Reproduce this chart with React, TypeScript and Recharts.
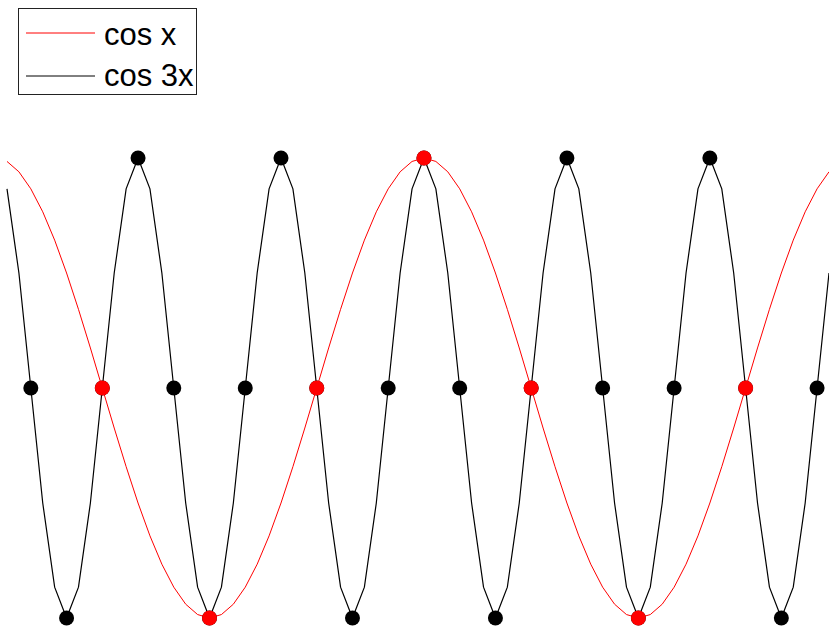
import React from "react";
import { LineChart, Line, XAxis, YAxis, Legend } from "recharts";

// Sample angles in degrees, 10° apart
const angleDeg = [
  -350, -340, -330, -320, -310, -300, -290, -280, -270, -260,
  -250, -240, -230, -220, -210, -200, -190, -180, -170, -160,
  -150, -140, -130, -120, -110, -100, -90, -80, -70, -60,
  -50, -40, -30, -20, -10, 0, 10, 20, 30, 40,
  50, 60, 70, 80, 90, 100, 110, 120, 130, 140,
  150, 160, 170, 180, 190, 200, 210, 220, 230, 240,
  250, 260, 270, 280, 290, 300, 310, 320, 330, 340,
];

// cos x at each sample
const cosX = [
  0.985, 0.94, 0.866, 0.766, 0.643, 0.5, 0.342, 0.174, 0, -0.174,
  -0.342, -0.5, -0.643, -0.766, -0.866, -0.94, -0.985, -1, -0.985, -0.94,
  -0.866, -0.766, -0.643, -0.5, -0.342, -0.174, 0, 0.174, 0.342, 0.5,
  0.643, 0.766, 0.866, 0.94, 0.985, 1, 0.985, 0.94, 0.866, 0.766,
  0.643, 0.5, 0.342, 0.174, 0, -0.174, -0.342, -0.5, -0.643, -0.766,
  -0.866, -0.94, -0.985, -1, -0.985, -0.94, -0.866, -0.766, -0.643, -0.5,
  -0.342, -0.174, 0, 0.174, 0.342, 0.5, 0.643, 0.766, 0.866, 0.94,
];

// cos 3x at each sample
const cos3X = [
  0.866, 0.5, 0, -0.5, -0.866, -1, -0.866, -0.5, 0, 0.5,
  0.866, 1, 0.866, 0.5, 0, -0.5, -0.866, -1, -0.866, -0.5,
  0, 0.5, 0.866, 1, 0.866, 0.5, 0, -0.5, -0.866, -1,
  -0.866, -0.5, 0, 0.5, 0.866, 1, 0.866, 0.5, 0, -0.5,
  -0.866, -1, -0.866, -0.5, 0, 0.5, 0.866, 1, 0.866, 0.5,
  0, -0.5, -0.866, -1, -0.866, -0.5, 0, 0.5, 0.866, 1,
  0.866, 0.5, 0, -0.5, -0.866, -1, -0.866, -0.5, 0, 0.5,
];

// Angles that get a marker (zeros and extremes)
const cosXMarks = [-270, -180, -90, 0, 90, 180, 270];
const cos3XMarks = [
  -330, -300, -270, -240, -210, -180, -150, -120, -90, -60, -30, 0,
  30, 60, 90, 120, 150, 180, 210, 240, 270, 300, 330,
];

const seriesNames = ["cos x", "cos 3x"];
const seriesColors = ["#ff0000", "#000000"];

const rows = angleDeg.map((x, i) => ({ x, c1: cosX[i], c3: cos3X[i] }));

const makeDot = (marks: number[], color: string) => (props: any) => {
  const { cx, cy, payload, index } = props;
  if (!marks.includes(payload.x)) return <g key={`e-${index}`} />;
  return <circle key={`d-${index}`} cx={cx} cy={cy} r={7.5} fill={color} stroke="none" />;
};

const BoxLegend = () => (
  <svg width={180} height={88} style={{ display: "block" }}>
    <rect x={0.5} y={0.5} width={178} height={86} fill="#fff" stroke="#222" strokeWidth={1} />
    {seriesNames.map((name, i) => {
      const ly = 25 + i * 43;
      return (
        <g key={name}>
          <line x1={8} x2={77} y1={ly} y2={ly} stroke={seriesColors[i]} strokeWidth={1} />
          <text
            x={86}
            y={36.5 + i * 41.5}
            fontFamily="'Liberation Sans', Arial, sans-serif"
            fontSize={31}
            fill="#000"
          >
            {name}
          </text>
        </g>
      );
    })}
  </svg>
);

export default function App() {
  return (
    <div
      style={{
        position: "absolute",
        left: 0,
        top: 0,
        width: 829,
        height: 627,
        background: "#fff",
        overflow: "hidden",
      }}
    >
      <LineChart width={829} height={627} data={rows} margin={{ top: 158, right: 0, bottom: 9, left: 7 }}>
        <XAxis dataKey="x" type="number" domain={[-350, 340]} hide />
        <YAxis type="number" domain={[-1, 1]} hide />
        <Legend
          layout="horizontal"
          verticalAlign="middle"
          align="center"
          content={() => <BoxLegend />}
          wrapperStyle={{ top: 8, left: 18, width: 180, height: 88 }}
        />
        <Line
          dataKey="c3"
          type="linear"
          stroke={seriesColors[1]}
          strokeWidth={1.2}
          dot={makeDot(cos3XMarks, seriesColors[1])}
          activeDot={false}
          isAnimationActive={false}
        />
        <Line
          dataKey="c1"
          type="linear"
          stroke={seriesColors[0]}
          strokeWidth={1}
          dot={makeDot(cosXMarks, seriesColors[0])}
          activeDot={false}
          isAnimationActive={false}
        />
      </LineChart>
    </div>
  );
}
